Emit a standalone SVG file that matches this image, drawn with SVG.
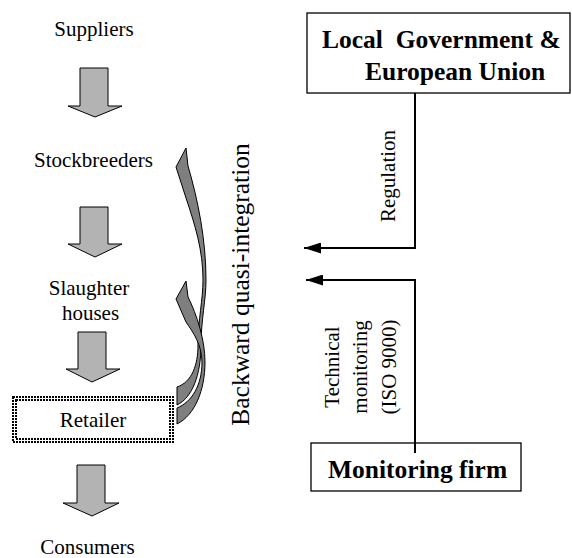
<svg xmlns="http://www.w3.org/2000/svg" width="572" height="558" viewBox="0 0 572 558">
<style>
text{font-family:"Liberation Serif","Times New Roman",serif;fill:#000}
.t{font-size:21px}
.b{font-size:25.5px;font-weight:bold}
.bq{font-size:25.5px}
.blk{fill:#b3b3b3;stroke:#000;stroke-width:1}
.crv{fill:#7f7f7f;stroke:#000;stroke-width:1}
.box{fill:#fff;stroke:#000;stroke-width:1.3}
.dot{fill:none;stroke:#000;stroke-width:2;stroke-dasharray:2 1}
.ln{fill:none;stroke:#000;stroke-width:2}
</style>
<defs>
<marker id="ah" viewBox="0 0 17 11" refX="17" refY="5.5" markerWidth="17" markerHeight="11" orient="auto" markerUnits="userSpaceOnUse"><path d="M0,0 L17,5.5 L0,11 Z" fill="#000"/></marker>
</defs>
<rect width="572" height="558" fill="#fff"/>

<g id="suppliers"><text class="t" x="94" y="36" text-anchor="middle">Suppliers</text></g>
<g id="stockbreeders"><text class="t" x="93.5" y="167" text-anchor="middle">Stockbreeders</text></g>
<g id="slaughter"><text class="t" x="89" y="295" text-anchor="middle">Slaughter</text><text class="t" x="90.5" y="320" text-anchor="middle">houses</text></g>
<g id="retailer">
<rect class="dot" x="13" y="397" width="160" height="45"/>
<rect class="dot" x="16" y="400" width="154" height="39"/>
<text class="t" x="93" y="427" text-anchor="middle">Retailer</text>
</g>
<g id="consumers"><text class="t" x="87.5" y="554" text-anchor="middle">Consumers</text></g>

<g id="government">
<rect class="box" x="307" y="13" width="263" height="80"/>
<text class="b" x="322" y="48" xml:space="preserve">Local  Government &amp;</text>
<text class="b" x="365" y="80">European Union</text>
</g>
<g id="monitoring">
<rect class="box" x="311" y="443" width="210" height="48"/>
<text class="b" x="328" y="478">Monitoring firm</text>
</g>

<g id="connectors">
<path class="blk" d="M80,68 H108 V106 H122 L95,117 L68,106 H80 Z"/>
<path class="blk" d="M80,207 H108 V244 H122 L95,257 L68,244 H80 Z"/>
<path class="blk" d="M78,332 H106 V369 H120 L92,382 L66,369 H78 Z"/>
<path class="blk" d="M77,465 H105 V503 H119 L92,516 L63,503 H77 Z"/>

<path class="crv" d="M177,405 C192,398 201,375 201,345 C201,320 206,300 206,280 C206,240 198,200 188,166 L186,148 L176,167 L186,198 C195,225 203,250 203,280 C203,300 198,320 198,345 C198,365 192,382 177,387 Z"/>
<path class="crv" d="M177,424 C195,415 205,390 205,362 C205,340 197,315 188,297 L186,281 L176,299 L186,322 C193,332 202,345 202,362 C202,385 192,402 177,408 Z"/>

<path class="ln" d="M415,93 V248 H304" marker-end="url(#ah)"/>
<path class="ln" d="M415,453 V280 H306" marker-end="url(#ah)"/>

<text class="t" transform="translate(395,176) rotate(-90)" text-anchor="middle">Regulation</text>
<text class="t" transform="translate(339,367) rotate(-90)" text-anchor="middle">Technical</text>
<text class="t" transform="translate(367,367) rotate(-90)" text-anchor="middle">monitoring</text>
<text class="t" transform="translate(396,367) rotate(-90)" text-anchor="middle">(ISO 9000)</text>
<text class="bq" transform="translate(249,284.5) rotate(-90)" text-anchor="middle">Backward quasi-integration</text>
</g>
</svg>
